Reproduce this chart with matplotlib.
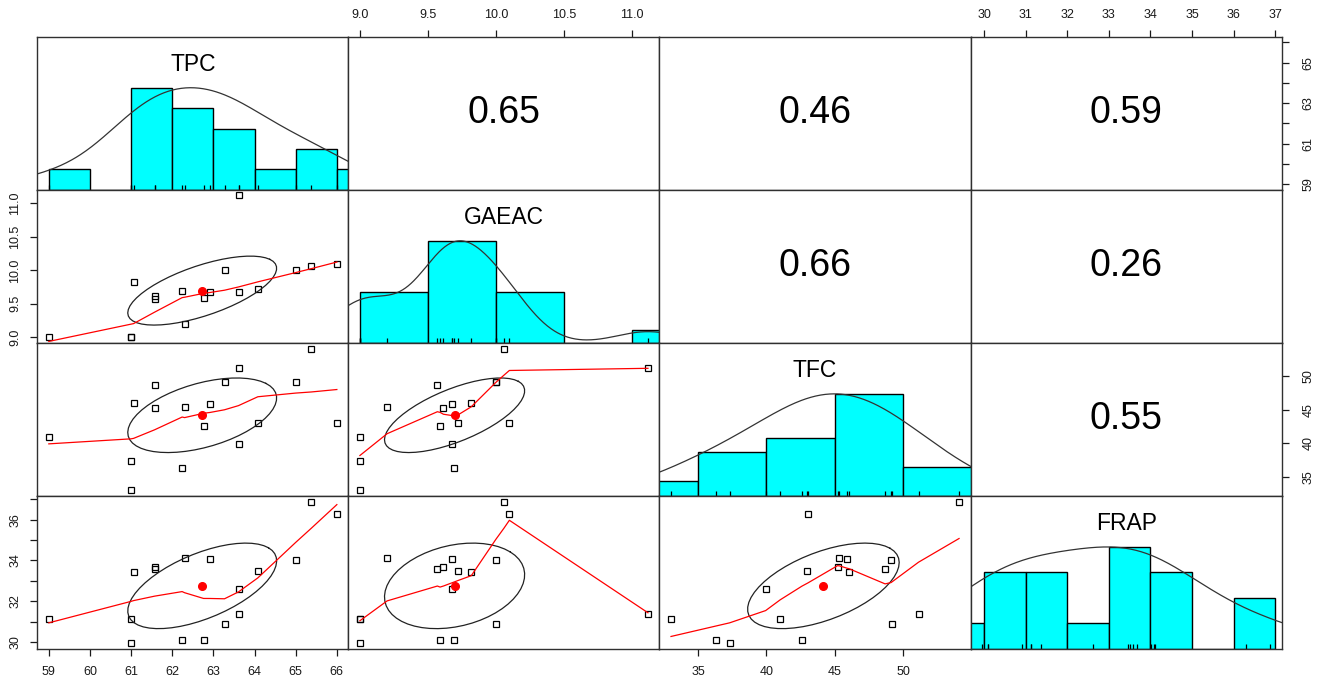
import numpy as np
import matplotlib
matplotlib.use("Agg")
import matplotlib.pyplot as plt

plt.rcParams["font.family"] = ["Liberation Sans", "DejaVu Sans"]

names = ["TPC", "GAEAC", "TFC", "FRAP"]
tpc = [59.0, 61.0, 61.0, 61.06, 61.57, 61.57, 62.24, 62.30, 62.76, 62.92,
       63.27, 63.61, 63.61, 64.08, 65.0, 65.38, 66.0]
gaeac = [9.0, 9.0, 9.0, 9.82, 9.57, 9.615, 9.695, 9.2, 9.59, 9.675,
         10.0, 11.12, 9.675, 9.725, 10.0, 10.06, 10.1]
tfc = [41.0, 37.31, 33.03, 46.04, 48.66, 45.19, 36.31, 45.33, 42.59, 45.87,
       49.15, 51.1, 39.94, 42.95, 49.1, 54.06, 43.02]
frap = [31.13, 29.95, 31.13, 33.45, 33.58, 33.68, 30.1, 34.12, 30.1, 34.09,
        30.9, 31.36, 32.62, 33.51, 34.02, 36.88, 36.29]
data = [np.array(v) for v in (tpc, gaeac, tfc, frap)]

bin_width = [1, 0.5, 5, 1]
ticks = [np.arange(59, 67), np.arange(9.0, 11.01, 0.5),
         np.arange(35, 51, 5), np.arange(30, 38)]
tick_fmt = ["{:.0f}", "{:.1f}", "{:.0f}", "{:.0f}"]
side_ticks = [[59, 61, 63, 65], None, None, [30, 32, 34, 36]]


def lims(v):
    pad = 0.04 * (v.max() - v.min())
    return v.min() - pad, v.max() + pad


def r_density(x):
    n = len(x)
    q1, q3 = np.percentile(x, [25, 75])
    bw = 1.06 * min(np.std(x, ddof=1), (q3 - q1) / 1.34) * n ** -0.2 * 1.2
    gx = np.linspace(x.min() - 3 * bw, x.max() + 3 * bw, 512)
    gy = np.exp(-0.5 * ((gx[:, None] - x[None, :]) / bw) ** 2).sum(1)
    return gx, gy / gy.max()


def lowess(x, y, f=2 / 3, nsteps=3):
    # port of R's clowess
    o = np.argsort(x, kind="stable")
    x = np.asarray(x, float)[o]
    y = np.asarray(y, float)[o]
    n = len(x)
    rng = x[-1] - x[0]
    delta = 0.01 * rng
    ns = max(2, min(n, int(f * n + 1e-7)))
    ys = np.zeros(n)
    rw = np.ones(n)

    def lowest(xs, nleft, nright, userw):
        h = max(xs - x[nleft], x[nright] - xs)
        h9, h1 = 0.999 * h, 0.001 * h
        w = np.zeros(n)
        a = 0.0
        j = nleft
        while j < n:
            r = abs(x[j] - xs)
            if r <= h9:
                w[j] = 1.0 if r <= h1 else (1 - (r / h) ** 3) ** 3
                if userw:
                    w[j] *= rw[j]
                a += w[j]
            elif x[j] > xs:
                break
            j += 1
        nrt = j - 1
        if a <= 0:
            return None
        sl = slice(nleft, nrt + 1)
        w[sl] /= a
        if h > 0:
            a = np.sum(w[sl] * x[sl])
            b = xs - a
            c = np.sum(w[sl] * (x[sl] - a) ** 2)
            if np.sqrt(c) > 0.001 * rng:
                b /= c
                w[sl] *= b * (x[sl] - a) + 1
        return np.sum(w[sl] * y[sl])

    for it in range(1, nsteps + 2):
        nleft, nright, last, i = 0, ns - 1, -1, 0
        while True:
            if nright < n - 1:
                d1 = x[i] - x[nleft]
                d2 = x[nright + 1] - x[i]
                if d1 > d2:
                    nleft += 1
                    nright += 1
                    continue
            v = lowest(x[i], nleft, nright, it > 1)
            ys[i] = y[i] if v is None else v
            if last < i - 1:
                denom = x[i] - x[last]
                for j in range(last + 1, i):
                    al = (x[j] - x[last]) / denom
                    ys[j] = al * ys[i] + (1 - al) * ys[last]
            last = i
            cut = x[last] + delta
            i = last + 1
            while i < n:
                if x[i] > cut:
                    break
                if x[i] == x[last]:
                    ys[i] = ys[last]
                    last = i
                i += 1
            i = max(last + 1, i - 1)
            if last >= n - 1:
                break
        res = y - ys
        sc = np.mean(np.abs(res))
        if it > nsteps:
            break
        cmad = 6 * np.median(np.abs(res))
        if cmad < 1e-7 * sc:
            break
        r = np.abs(res)
        rw = np.where(r <= 0.001 * cmad, 1.0,
                      np.where(r <= 0.999 * cmad, (1 - (r / cmad) ** 2) ** 2, 0.0))
    return x, ys


def ellipse(x, y):
    r = np.corrcoef(x, y)[0, 1]
    th = np.sign(r) / np.sqrt(2)
    shape = np.diag([np.sqrt(1 + r), np.sqrt(1 - r)]) @ np.array([[th, th], [-th, th]])
    ang = np.arange(52) * 2 * np.pi / 51
    e = np.column_stack([np.cos(ang), np.sin(ang)]) @ shape
    return e[:, 0] * np.std(x, ddof=1) + x.mean(), e[:, 1] * np.std(y, ddof=1) + y.mean()


fig, axes = plt.subplots(4, 4, figsize=(13.22, 6.81), dpi=100)
fig.subplots_adjust(left=0.0282, right=0.9695, top=0.9461, bottom=0.047,
                    wspace=0, hspace=0)

nv = len(names)
for i in range(nv):
    for j in range(nv):
        ax = axes[i, j]
        ax.set_xlim(*lims(data[j]))
        for s in ax.spines.values():
            s.set_color("#303030")
            s.set_linewidth(1.0)
        ax.set_xticks([])
        ax.set_yticks([])
        if i == j:
            x = data[i]
            w = bin_width[i]
            lo = np.floor(x.min() / w) * w
            hi = np.floor(x.max() / w) * w + w
            edges = np.arange(lo, hi + w / 2, w)
            counts, _ = np.histogram(x, bins=edges)
            ax.set_ylim(0, 1.5)
            ax.bar(edges[:-1], counts / counts.max(), width=w, align="edge",
                   color="cyan", edgecolor="black", linewidth=1.0)
            gx, gy = r_density(x)
            ax.plot(gx, gy, color="#333333", lw=0.9)
            ax.vlines(x, 0, 0.045, color="black", lw=0.9)
            ax.text(0.5, 0.82, names[i], transform=ax.transAxes, ha="center",
                    va="center", fontsize=16.5)
        elif i > j:
            x, y = data[j], data[i]
            ax.set_ylim(*lims(y))
            ax.plot(x, y, ls="none", marker="s", ms=4.6, mfc="none",
                    mec="black", mew=0.9)
            ex, ey = ellipse(x, y)
            ax.plot(ex, ey, color="#222222", lw=0.9)
            ax.plot(x.mean(), y.mean(), "o", color="red", ms=5.5)
            lx, ly = lowess(x, y)
            ax.plot(lx, ly, color="red", lw=0.9)
        else:
            ax.set_ylim(*lims(data[i]))
            r = np.corrcoef(data[i], data[j])[0, 1]
            ax.text(0.5, 0.5, f"{r:.2f}", transform=ax.transAxes, ha="center",
                    va="center", fontsize=27)


def set_axis(ax, which, k):
    tk = ticks[k]
    labs = [tick_fmt[k].format(t) for t in tk]
    if which in ("left", "right") and side_ticks[k] is not None:
        labs = [tick_fmt[k].format(t) if t in side_ticks[k] else "" for t in tk]
    if which in ("top", "bottom"):
        ax.set_xticks(tk)
        ax.set_xticklabels(labs)
        ax.tick_params(axis="x", which="both", top=(which == "top"),
                       bottom=(which == "bottom"), labeltop=(which == "top"),
                       labelbottom=(which == "bottom"), direction="out",
                       length=5, width=0.9, pad=6.5 if which == "top" else 7.5,
                       labelsize=9, colors="#1a1a1a")
    else:
        ax.set_yticks(tk)
        ax.set_yticklabels(labs, rotation=90, va="center")
        ax.tick_params(axis="y", which="both", left=(which == "left"),
                       right=(which == "right"), labelleft=(which == "left"),
                       labelright=(which == "right"), direction="out",
                       length=5, width=0.9, pad=6.5 if which == "left" else 10,
                       labelsize=9, colors="#1a1a1a")


set_axis(axes[3, 0], "bottom", 0)
set_axis(axes[3, 2], "bottom", 2)
set_axis(axes[0, 1], "top", 1)
set_axis(axes[0, 3], "top", 3)
set_axis(axes[1, 0], "left", 1)
set_axis(axes[3, 0], "left", 3)
set_axis(axes[0, 3], "right", 0)
set_axis(axes[2, 3], "right", 2)

fig.savefig("out.png", dpi=100)
